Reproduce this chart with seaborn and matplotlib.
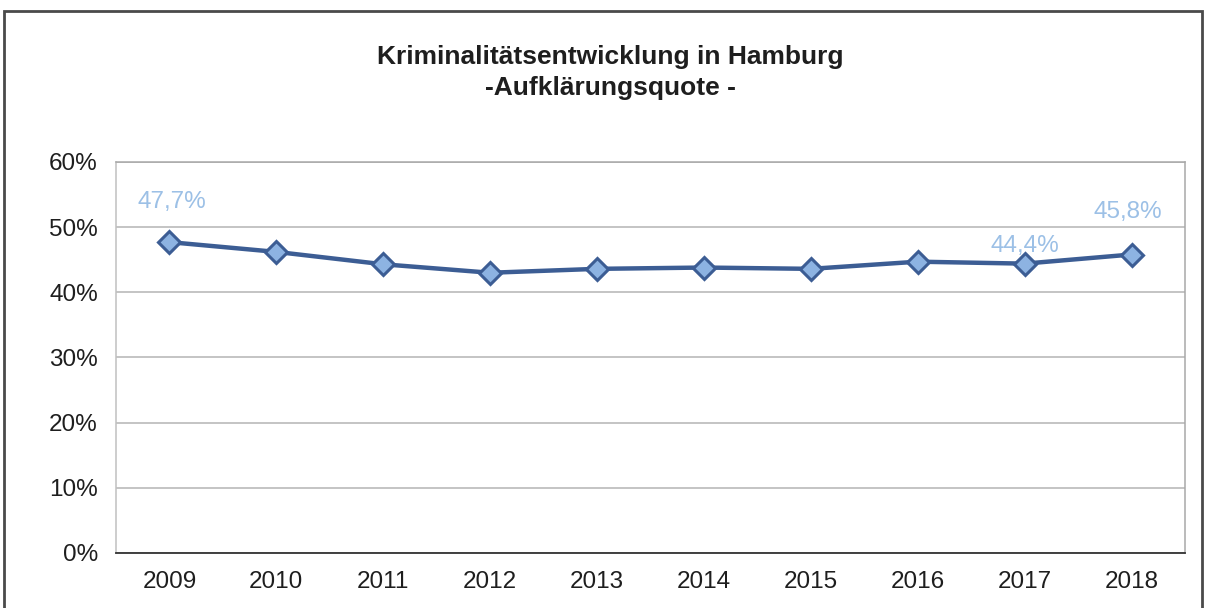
import matplotlib
matplotlib.use("Agg")
import matplotlib.pyplot as plt
import matplotlib.ticker as mticker
from matplotlib.patches import Rectangle
import seaborn as sns
import pandas as pd

# Aufklärungsquote Hamburg (Prozent)
years = ["2009", "2010", "2011", "2012", "2013", "2014", "2015", "2016", "2017", "2018"]
quote = [47.7, 46.2, 44.3, 43.0, 43.6, 43.8, 43.6, 44.7, 44.4, 45.8]
labelled = {"2009": "47,7%", "2017": "44,4%", "2018": "45,8%"}
title_lines = ["Kriminalitätsentwicklung in Hamburg", "-Aufklärungsquote -"]

sns.set_theme(style="white")
plt.rcParams["font.family"] = ["Liberation Sans", "DejaVu Sans"]

line_col = "#3c5d94"
marker_fill = "#8db3e2"
label_col = "#9cc0e6"
grid_col = "#b4b4b4"

df = pd.DataFrame({"Jahr": years, "Quote": quote})

fig = plt.figure(figsize=(12.07, 6.08), dpi=100)
fig.patch.set_facecolor("white")
ax = fig.add_axes([0.0961, 0.0905, 0.8857, 0.6431])

sns.lineplot(data=df, x="Jahr", y="Quote", sort=False, ax=ax,
             color=line_col, linewidth=3.2, marker="D", markersize=11,
             markerfacecolor=marker_fill, markeredgecolor=line_col,
             markeredgewidth=2.2, zorder=3)

# data labels
offsets = {"2009": (2, 21), "2017": (0, 5), "2018": (-3, 23)}
for i, yr in enumerate(years):
    if yr in labelled:
        ax.annotate(labelled[yr], (i, quote[i]), xytext=offsets[yr],
                    textcoords="offset points", ha="center", va="bottom",
                    fontsize=17.5, color=label_col)

ax.set_xlim(-0.5, len(years) - 0.5)
ax.set_ylim(0, 60)
ax.yaxis.set_major_locator(mticker.MultipleLocator(10))
ax.yaxis.set_major_formatter(mticker.FuncFormatter(lambda v, p: f"{v:.0f}%"))
ax.yaxis.grid(True, color=grid_col, linewidth=1.1)
ax.set_axisbelow(True)

ax.set_xticks(range(len(years)))
ax.set_xticklabels(years)
ax.set_xticks([i - 0.5 for i in range(len(years) + 1)], minor=True)
ax.tick_params(axis="x", which="major", length=0, pad=13, labelsize=17.5, labelcolor="#1e1e1e")
ax.tick_params(axis="x", which="minor", length=8, width=1.2, color="#333333", direction="out")
ax.tick_params(axis="y", length=0, pad=13, labelsize=17.5, labelcolor="#1e1e1e")
ax.set_xlabel("")
ax.set_ylabel("")

for side in ["top", "right"]:
    ax.spines[side].set_color("#a8a8a8")
    ax.spines[side].set_linewidth(1.1)
ax.spines["left"].set_color("#c0c0c0")
ax.spines["left"].set_linewidth(1.1)
ax.spines["bottom"].set_color("#333333")
ax.spines["bottom"].set_linewidth(1.3)

fig.text(0.506, 0.907, title_lines[0], ha="center", va="center",
         fontsize=19, fontweight="bold", color="#1e1e1e")
fig.text(0.506, 0.855, title_lines[1], ha="center", va="center",
         fontsize=19, fontweight="bold", color="#1e1e1e")

# outer chart frame
fig.patches.append(Rectangle((4 / 1207, -0.05), 1198 / 1207, 1.05 - 11 / 608,
                             transform=fig.transFigure, fill=False,
                             edgecolor="#4a4a4a", linewidth=2))

fig.savefig("out.png", dpi=100)
